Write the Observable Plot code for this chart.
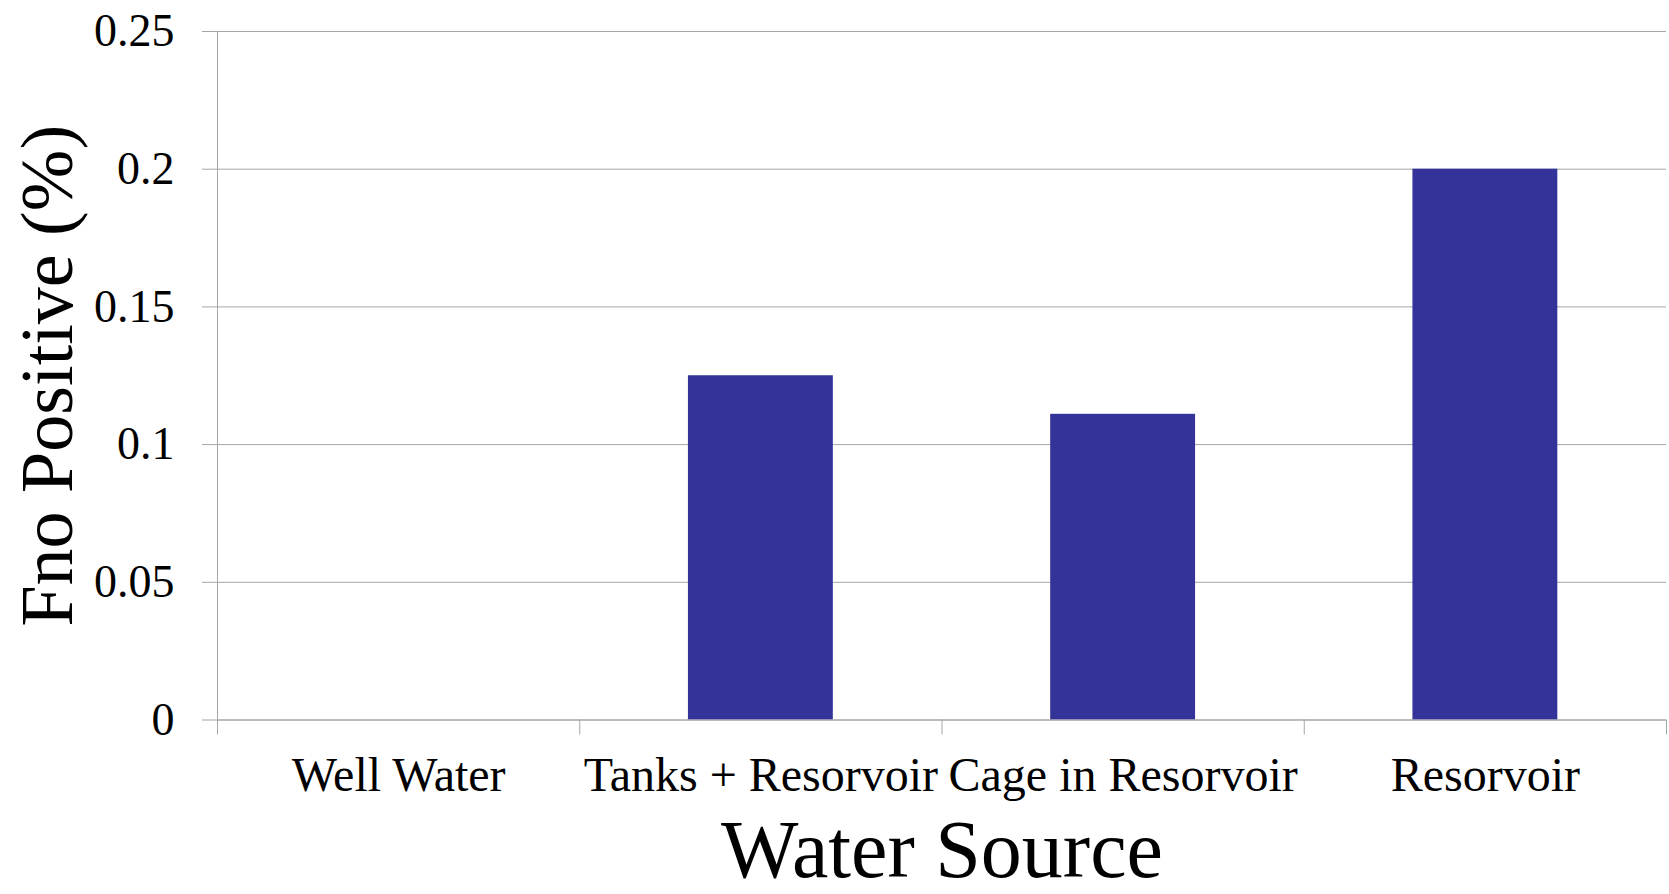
<!DOCTYPE html>
<html>
<head>
<meta charset="utf-8">
<script src="https://cdn.jsdelivr.net/npm/d3@7"></script>
<script src="https://cdn.jsdelivr.net/npm/@observablehq/plot@0.6"></script>
<style>
  html, body { margin: 0; padding: 0; background: #fff; }
</style>
</head>
<body>
<div id="chart"></div>
<script>
const categories = ["Well Water", "Tanks + Resorvoir", "Cage in Resorvoir", "Resorvoir"];
const values = [0, 0.125, 0.111, 0.2];
const yTicks = [0, 0.05, 0.1, 0.15, 0.2, 0.25];
const yTickLabels = ["0", "0.05", "0.1", "0.15", "0.2", "0.25"];
const xTitle = "Water Source";
const yTitle = "Fno Positive (%)";

const gap = 0.6; // fraction of each category slot left empty
const data = categories.map((c, i) => ({category: c, index: i, value: values[i]}));
const boundaries = d3.range(categories.length + 1);
const centers = categories.map((c, i) => i + 0.5);

const grid = "#a6a6a6";
const font = "Liberation Serif, Times New Roman, serif";

const chart = Plot.plot({
  width: 1669,
  height: 894,
  marginLeft: 217,
  marginRight: 3,
  marginTop: 31,
  marginBottom: 174.5,
  style: {fontFamily: font, background: "#fff", color: "#000"},
  x: {type: "linear", domain: [0, categories.length]},
  y: {domain: [0, 0.25]},
  marks: [
    Plot.gridY(yTicks, {stroke: grid, strokeOpacity: 1}),
    Plot.axisY(yTicks, {tickSize: 15, stroke: grid, strokeOpacity: 1, tickFormat: () => "", label: null}),
    Plot.axisY(yTicks, {tickSize: 0, tickPadding: 43, tickFormat: (d, i) => yTickLabels[i], fontSize: 46, fill: "#000", label: null}),
    Plot.rectY(data, {x1: d => d.index + gap / 2, x2: d => d.index + 1 - gap / 2, y: "value", fill: "#333399"}),
    Plot.ruleX([0], {stroke: grid}),
    Plot.ruleY([0], {stroke: grid}),
    Plot.axisX(boundaries, {tickSize: 15, stroke: grid, strokeOpacity: 1, tickFormat: () => "", label: null}),
    Plot.axisX(centers, {tickSize: 0, tickPadding: 37, tickFormat: (d) => categories[Math.floor(d)], fontSize: 48, fill: "#000", label: null}),
    Plot.text([xTitle], {frameAnchor: "bottom", textAnchor: "middle", lineAnchor: "bottom", dy: 157, fontSize: 82, fill: "#000"}),
    Plot.text([yTitle], {frameAnchor: "left", textAnchor: "middle", rotate: -90, dx: -169, fontSize: 74, fill: "#000"})
  ]
});
document.getElementById("chart").appendChild(chart);
</script>
</body>
</html>
